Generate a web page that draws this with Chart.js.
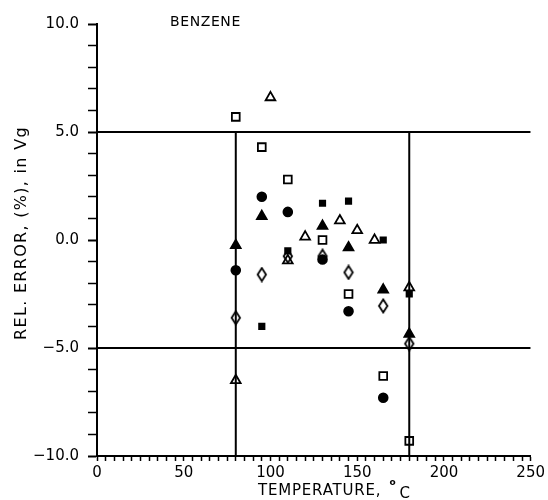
<!doctype html>
<html>

<head>
  <meta charset="utf-8" />
  <title>Benzene - relative error in Vg</title>
  <script src="https://cdn.jsdelivr.net/npm/chart.js"></script>
  <style>
    body {
      margin: 0;
      background: #fff;
    }

    #wrap {
      width: 548px;
      height: 500px;
      position: relative;
    }
  </style>
</head>

<body>
  <div id="wrap"><canvas id="errChart"></canvas></div>

  <script>
    // temperature (C) / relative error (%) for each symbol set
    const openSquareT = [80, 95, 110, 130, 145, 165, 180];
    const openSquareE = [5.7, 4.3, 2.8, 0.0, -2.5, -6.3, -9.3];

    const openTriangleT = [80, 100, 110, 120, 140, 150, 160, 180];
    const openTriangleE = [-6.5, 6.6, -0.95, 0.15, 0.9, 0.45, 0.0, -2.2];

    const filledCircleT = [80, 95, 110, 130, 145, 165];
    const filledCircleE = [-1.4, 2.0, 1.3, -0.9, -3.3, -7.3];

    const filledTriangleT = [80, 95, 130, 145, 165, 180];
    const filledTriangleE = [-0.25, 1.1, 0.65, -0.35, -2.3, -4.35];

    const openDiamondT = [80, 95, 110, 130, 145, 165, 180];
    const openDiamondE = [-3.6, -1.6, -0.75, -0.75, -1.5, -3.05, -4.8];

    const smallSquareT = [95, 110, 130, 145, 165, 180];
    const smallSquareE = [-4.0, -0.5, 1.7, 1.8, 0.0, -2.5];

    // +/- 5 % band and the temperature range limits
    const limitErr = [-5, 5];
    const limitTemp = [80, 180];

    const xTicks = [0, 50, 100, 150, 200, 250];
    const yTicks = [-10, -5, 0, 5, 10];

    const pts = (t, e) => t.map((x, i) => ({ x: x, y: e[i] }));

    // tall open diamond marker
    const diamond = document.createElement('canvas');
    diamond.width = 12;
    diamond.height = 16;
    (function () {
      const c = diamond.getContext('2d');
      c.strokeStyle = '#000';
      c.lineWidth = 1.8;
      c.lineJoin = 'miter';
      c.beginPath();
      c.moveTo(6, 1.5);
      c.lineTo(10.2, 8);
      c.lineTo(6, 14.5);
      c.lineTo(1.8, 8);
      c.closePath();
      c.stroke();
    })();

    const refLine = (data) => ({
      type: 'line',
      data: data,
      borderColor: '#000',
      borderWidth: 2,
      pointRadius: 0,
      fill: false,
      order: 10
    });

    const marks = (data, style, radius, filled) => ({
      type: 'scatter',
      data: data,
      pointStyle: style,
      pointRadius: radius,
      pointHoverRadius: radius,
      pointBorderColor: '#000',
      pointBackgroundColor: filled ? '#000' : 'rgba(0,0,0,0)',
      pointBorderWidth: 1.8,
      order: 1
    });

    const datasets = [
      refLine([{ x: 0, y: limitErr[1] }, { x: 250, y: limitErr[1] }]),
      refLine([{ x: 0, y: limitErr[0] }, { x: 250, y: limitErr[0] }]),
      refLine([{ x: limitTemp[0], y: -10 }, { x: limitTemp[0], y: limitErr[1] }]),
      refLine([{ x: limitTemp[1], y: -10 }, { x: limitTemp[1], y: limitErr[1] }]),
      marks(pts(openSquareT, openSquareE), 'rect', 5.5, false),
      marks(pts(openTriangleT, openTriangleE), 'triangle', 5.6, false),
      marks(pts(filledCircleT, filledCircleE), 'circle', 4.4, true),
      marks(pts(filledTriangleT, filledTriangleE), 'triangle', 5.6, true),
      marks(pts(openDiamondT, openDiamondE), diamond, 6, false),
      marks(pts(smallSquareT, smallSquareE), 'rect', 3.8, true)
    ];

    // titles drawn by hand: spaced lettering, raised degree sign
    const axisText = {
      id: 'axisText',
      afterDraw(chart) {
        const ctx = chart.ctx;
        const a = chart.chartArea;
        ctx.save();
        ctx.fillStyle = '#000';
        ctx.textBaseline = 'alphabetic';
        ctx.textAlign = 'left';

        ctx.font = '14px "DejaVu Sans"';
        ctx.letterSpacing = '0.6px';
        ctx.fillText('BENZENE', a.left + 73, a.top + 2);

        ctx.font = '15px "DejaVu Sans"';
        ctx.letterSpacing = '0.8px';
        const xl = a.left + 161;
        ctx.fillText('TEMPERATURE,', xl, 495);
        const w = ctx.measureText('TEMPERATURE,').width;
        ctx.font = 'bold 9px "DejaVu Sans"';
        ctx.fillText('o', xl + w + 8, 485);
        ctx.font = '15px "DejaVu Sans"';
        ctx.fillText('C', xl + w + 18, 498);

        ctx.font = '16px "DejaVu Sans"';
        ctx.letterSpacing = '1.3px';
        ctx.translate(26, 233);
        ctx.rotate(-Math.PI / 2);
        ctx.textAlign = 'center';
        ctx.fillText('REL. ERROR, (%), in Vg', 0, 0);
        ctx.restore();
      }
    };

    Chart.defaults.font.family = '"DejaVu Sans"';
    Chart.defaults.font.size = 15;
    Chart.defaults.color = '#000';

    new Chart(document.getElementById('errChart'), {
      data: { datasets: datasets },
      options: {
        responsive: true,
        maintainAspectRatio: false,
        animation: false,
        layout: { padding: { left: 0, top: 24, right: 16, bottom: 0 } },
        plugins: {
          legend: { display: false },
          tooltip: { enabled: false }
        },
        scales: {
          x: {
            type: 'linear',
            min: 0,
            max: 250,
            afterFit: (s) => { s.height = 44; },
            border: { display: true, color: '#000', width: 2 },
            grid: {
              drawOnChartArea: false,
              drawTicks: true,
              tickLength: 5,
              tickColor: '#000',
              tickWidth: 1.5
            },
            ticks: {
              stepSize: 5,
              autoSkip: false,
              maxRotation: 0,
              padding: 3,
              callback: (v) => xTicks.includes(v) ? String(v) : ''
            }
          },
          y: {
            type: 'linear',
            min: -10,
            max: 10,
            afterFit: (s) => { s.width = 97; },
            border: { display: true, color: '#000', width: 2 },
            grid: {
              drawOnChartArea: false,
              drawTicks: true,
              tickLength: 9,
              tickColor: '#000',
              tickWidth: (c) => (c.tick && yTicks.includes(c.tick.value)) ? 2 : 1.5
            },
            ticks: {
              stepSize: 1,
              autoSkip: false,
              padding: 9,
              callback: (v) => yTicks.includes(v) ? v.toFixed(1).replace('-', '\u2212') : ''
            }
          }
        }
      },
      plugins: [axisText]
    });
  </script>
</body>

</html>
